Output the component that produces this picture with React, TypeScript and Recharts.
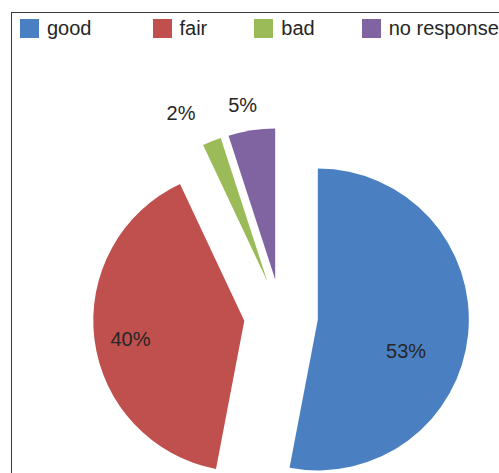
import { Cell, Legend, Pie, PieChart, Sector } from "recharts"

const categories = ["good", "fair", "bad", "no response"]
const shares = [53, 40, 2, 5]
const colors = ["#4a7fc1", "#c0504d", "#9bbb59", "#8064a2"]

const data = categories.map((name, i) => ({ name, value: shares[i] }))

// small hand tweaks so labels sit where Excel put them
const labelNudge = [
  [-11, 22],
  [-15, 6],
  [-19, 2],
  [-4, 6],
]

const RADIAN = Math.PI / 180
const EXPLODE = 37

function explode(cx: number, cy: number, midAngle: number) {
  return {
    x: cx + EXPLODE * Math.cos(-midAngle * RADIAN),
    y: cy + EXPLODE * Math.sin(-midAngle * RADIAN),
  }
}

function ExplodedSlice(props: any) {
  const { cx, cy, midAngle } = props
  const c = explode(cx, cy, midAngle)
  return <Sector {...props} cx={c.x} cy={c.y} stroke="none" />
}

function renderLabel(props: any) {
  const { cx, cy, midAngle, outerRadius, value, index } = props
  const c = explode(cx, cy, midAngle)
  const r = value > 10 ? outerRadius * 0.66 : outerRadius + 32
  const [nx, ny] = labelNudge[index] || [0, 0]
  const x = c.x + r * Math.cos(-midAngle * RADIAN) + nx
  const y = c.y + r * Math.sin(-midAngle * RADIAN) + ny
  return (
    <text
      x={x}
      y={y}
      fill="#262626"
      fontSize={20}
      fontFamily="'Liberation Sans', Arial, sans-serif"
      textAnchor="middle"
      dominantBaseline="central"
    >
      {`${value}%`}
    </text>
  )
}

const legendGaps = [61, 47, 47, 0]

function LegendContent() {
  return (
    <div style={{ display: "flex", alignItems: "center", whiteSpace: "nowrap" }}>
      {categories.map((name, i) => (
        <div key={name} style={{ display: "flex", alignItems: "center", marginRight: legendGaps[i] }}>
          <span style={{ width: 19, height: 19, background: colors[i], display: "inline-block", marginRight: 8 }} />
          <span style={{ fontSize: 20, color: "#262626", fontFamily: "'Liberation Sans', Arial, sans-serif", lineHeight: "20px" }}>
            {name}
          </span>
        </div>
      ))}
    </div>
  )
}

export default function App() {
  return (
    <div style={{ position: "absolute", left: 0, top: 0, width: 499, height: 473, overflow: "hidden", background: "#fff" }}>
      <div
        style={{
          position: "absolute",
          left: 11,
          top: 12,
          width: 700,
          height: 700,
          border: "1px solid #3a3a3a",
        }}
      />
      <PieChart width={499} height={473} margin={{ top: 0, right: 0, bottom: 0, left: 0 }}>
        <Legend
          layout="horizontal"
          verticalAlign="middle"
          align="center"
          wrapperStyle={{ top: 18, left: 20, width: 600 }}
          content={<LegendContent />}
        />
        <Pie
          data={data}
          dataKey="value"
          nameKey="name"
          cx={281}
          cy={316}
          outerRadius={151}
          startAngle={90}
          endAngle={-270}
          isAnimationActive={false}
          shape={ExplodedSlice}
          label={renderLabel}
          labelLine={false}
        >
          {data.map((d, i) => (
            <Cell key={d.name} fill={colors[i]} />
          ))}
        </Pie>
      </PieChart>
    </div>
  )
}
